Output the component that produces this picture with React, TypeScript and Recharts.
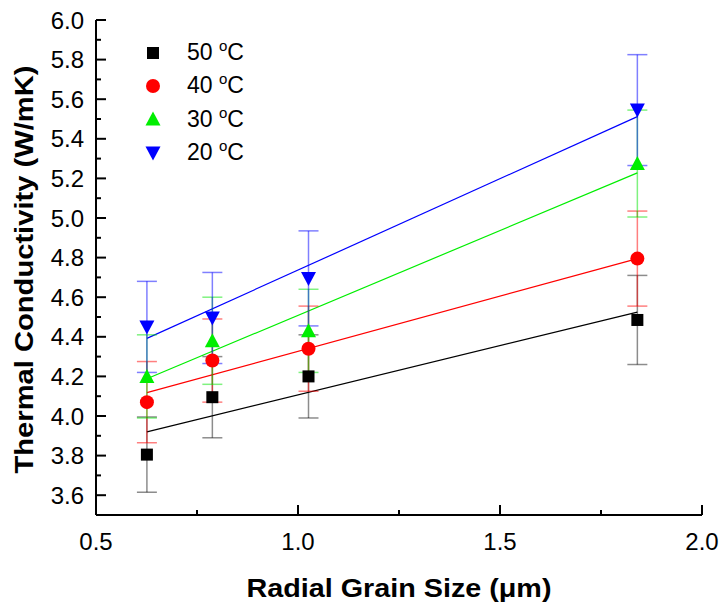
import React from "react";
import { ComposedChart, Scatter, Line, XAxis, YAxis, ErrorBar, Legend } from "recharts";

const FONT = "'Liberation Sans', Arial, sans-serif";

// radial grain size (um)
const grainSize = [0.626, 0.788, 1.026, 1.84];

// thermal conductivity (W/mK) and error
const k50C = [3.805, 4.095, 4.2, 4.485];
const err50C = [0.19, 0.205, 0.21, 0.225];
const k40C = [4.07, 4.28, 4.34, 4.795];
const err40C = [0.205, 0.21, 0.215, 0.24];
const k30C = [4.2, 4.38, 4.43, 5.275];
const err30C = [0.21, 0.22, 0.21, 0.27];
const k20C = [4.45, 4.495, 4.695, 5.545];
const err20C = [0.23, 0.23, 0.24, 0.28];

// linear fit end points
const fitX = [0.626, 1.84];
const fit50C = [3.92, 4.525];
const fit40C = [4.118, 4.795];
const fit30C = [4.188, 5.228];
const fit20C = [4.392, 5.512];

const xTicks = [0.5, 0.75, 1.0, 1.25, 1.5, 1.75, 2.0];
const yTicks = [3.5, 3.6, 3.7, 3.8, 3.9, 4.0, 4.1, 4.2, 4.3, 4.4, 4.5, 4.6, 4.7, 4.8, 4.9, 5.0, 5.1, 5.2, 5.3, 5.4, 5.5, 5.6, 5.7, 5.8, 5.9, 6.0];

const toRows = (ys: number[], errs: number[]) => grainSize.map((x, i) => ({ x, y: ys[i], err: errs[i] }));
const toFit = (ys: number[]) => fitX.map((x, i) => ({ x, y: ys[i] }));

const SERIES = [
  { name: "50", shape: "square", color: "#000000", errColor: "rgba(0,0,0,0.45)", data: toRows(k50C, err50C), fit: toFit(fit50C) },
  { name: "40", shape: "circle", color: "#ff0000", errColor: "rgba(255,0,0,0.5)", data: toRows(k40C, err40C), fit: toFit(fit40C) },
  { name: "30", shape: "up", color: "#00ee00", errColor: "rgba(0,230,0,0.5)", data: toRows(k30C, err30C), fit: toFit(fit30C) },
  { name: "20", shape: "down", color: "#0000ff", errColor: "rgba(0,0,255,0.5)", data: toRows(k20C, err20C), fit: toFit(fit20C) },
];

function marker(shape: string, cx: number, cy: number, color: string) {
  if (shape === "square") return <rect x={cx - 6} y={cy - 6} width={12} height={12} fill={color} />;
  if (shape === "circle") return <circle cx={cx} cy={cy} r={7} fill={color} />;
  if (shape === "up") return <polygon points={`${cx - 7.5},${cy + 6.5} ${cx + 7.5},${cy + 6.5} ${cx},${cy - 7.5}`} fill={color} />;
  return <polygon points={`${cx - 7.5},${cy - 6.5} ${cx + 7.5},${cy - 6.5} ${cx},${cy + 7.5}`} fill={color} />;
}

const isMajorY = (v: number) => Math.round(v * 10) % 2 === 0;
const isMajorX = (v: number) => Math.round(v * 4) % 2 === 0;

const LeftTick = (props: any) => {
  const { x, y, payload } = props;
  const major = isMajorY(payload.value);
  return (
    <g>
      <line x1={x} y1={y} x2={x + (major ? 10 : 5)} y2={y} stroke="#000" strokeWidth={2} />
      {major && (
        <text x={x - 12} y={y} textAnchor="end" dominantBaseline="central" fontSize={24} fontFamily={FONT} fill="#000">
          {payload.value.toFixed(1)}
        </text>
      )}
    </g>
  );
};

const RightTick = (props: any) => {
  const { x, y, payload } = props;
  const major = isMajorY(payload.value);
  return <line x1={x} y1={y} x2={x - (major ? 10 : 5)} y2={y} stroke="#000" strokeWidth={2} />;
};

const BottomTick = (props: any) => {
  const { x, y, payload } = props;
  const major = isMajorX(payload.value);
  return (
    <g>
      <line x1={x} y1={y} x2={x} y2={y - (major ? 10 : 5)} stroke="#000" strokeWidth={2} />
      {major && (
        <text x={x} y={y + 26} textAnchor="middle" dominantBaseline="central" fontSize={24} fontFamily={FONT} fill="#000">
          {payload.value.toFixed(1)}
        </text>
      )}
    </g>
  );
};

const TopTick = (props: any) => {
  const { x, y, payload } = props;
  const major = isMajorX(payload.value);
  return <line x1={x} y1={y} x2={x} y2={y + (major ? 10 : 5)} stroke="#000" strokeWidth={2} />;
};

const XTitle = (props: any) => {
  const vb = props.viewBox;
  return (
    <text x={vb.x + vb.width / 2} y={vb.y + 82} textAnchor="middle" fontSize={26} fontWeight="bold" fontFamily={FONT} fill="#000" textLength={305} lengthAdjust="spacingAndGlyphs">
      Radial Grain Size (μm)
    </text>
  );
};

const YTitle = (props: any) => {
  const vb = props.viewBox;
  const cy = vb.y + vb.height / 2 + 2;
  return (
    <text x={33} y={cy} transform={`rotate(-90, 33, ${cy})`} textAnchor="middle" fontSize={26} fontWeight="bold" fontFamily={FONT} fill="#000" textLength={408} lengthAdjust="spacingAndGlyphs">
      Thermal Conductivity (W/mK)
    </text>
  );
};

const renderLegend = () => (
  <div style={{ fontFamily: FONT, fontSize: 23, color: "#000" }}>
    {SERIES.map((s) => (
      <div key={s.name} style={{ display: "flex", alignItems: "center", height: 33.3 }}>
        <svg width={16} height={16} style={{ display: "block" }}>
          {marker(s.shape, 8, 8, s.color)}
        </svg>
        <span style={{ marginLeft: 26, whiteSpace: "nowrap" }}>
          {s.name} <span style={{ fontSize: 15, position: "relative", top: -9 }}>o</span>C
        </span>
      </div>
    ))}
  </div>
);

export default function App() {
  return (
    <div style={{ position: "absolute", left: 0, top: 0, background: "#fff" }}>
      <ComposedChart width={724} height={610} margin={{ top: 20, right: 22, bottom: 0, left: 0 }}>
        <XAxis
          xAxisId="x"
          dataKey="x"
          type="number"
          domain={[0.5, 2.0]}
          ticks={xTicks}
          interval={0}
          allowDataOverflow
          height={95}
          tickSize={0}
          tickMargin={0}
          tick={BottomTick}
          axisLine={{ stroke: "#000", strokeWidth: 2 }}
          label={{ content: XTitle }}
        />
        <XAxis
          xAxisId="xt"
          orientation="top"
          type="number"
          domain={[0.5, 2.0]}
          ticks={xTicks}
          interval={0}
          allowDataOverflow
          height={0}
          tickSize={0}
          tickMargin={0}
          tick={TopTick}
          axisLine={{ stroke: "#000", strokeWidth: 2 }}
        />
        <YAxis
          yAxisId="y"
          dataKey="y"
          type="number"
          domain={[3.5, 6.0]}
          ticks={yTicks}
          interval={0}
          allowDataOverflow
          width={96}
          tickSize={0}
          tickMargin={0}
          tick={LeftTick}
          axisLine={{ stroke: "#000", strokeWidth: 2 }}
          label={{ content: YTitle }}
        />
        <YAxis
          yAxisId="yr"
          orientation="right"
          type="number"
          domain={[3.5, 6.0]}
          ticks={yTicks}
          interval={0}
          allowDataOverflow
          width={0}
          tickSize={0}
          tickMargin={0}
          tick={RightTick}
          axisLine={{ stroke: "#000", strokeWidth: 2 }}
        />
        {SERIES.map((s) => (
          <Line
            key={`fit-${s.name}`}
            xAxisId="x"
            yAxisId="y"
            data={s.fit}
            dataKey="y"
            type="linear"
            stroke={s.color}
            strokeWidth={1.2}
            dot={false}
            activeDot={false}
            legendType="none"
            isAnimationActive={false}
          />
        ))}
        {SERIES.map((s) => (
          <Scatter
            key={`pts-${s.name}`}
            name={`${s.name} °C`}
            xAxisId="x"
            yAxisId="y"
            data={s.data}
            fill={s.color}
            isAnimationActive={false}
            shape={(p: any) => marker(s.shape, p.cx, p.cy, s.color)}
          >
            <ErrorBar dataKey="err" direction="y" width={10} stroke={s.errColor} strokeWidth={1.5} />
          </Scatter>
        ))}
        <Legend
          layout="vertical"
          align="center"
          verticalAlign="middle"
          content={renderLegend}
          wrapperStyle={{ left: 145, top: 36, width: "auto", right: "auto", bottom: "auto" }}
        />
      </ComposedChart>
    </div>
  );
}
